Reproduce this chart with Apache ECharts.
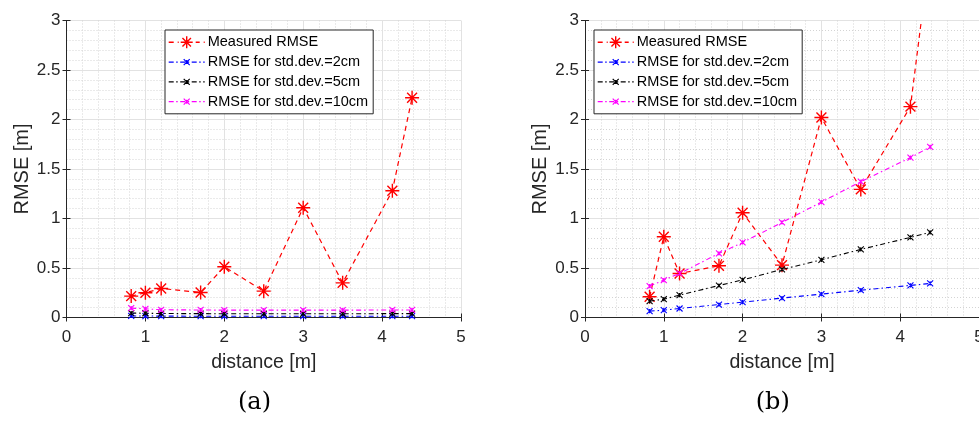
<!DOCTYPE html>
<html>
<head>
<meta charset="utf-8">
<script src="https://cdn.jsdelivr.net/npm/echarts@6/dist/echarts.min.js"></script>
<style>
html,body{margin:0;padding:0;background:#fff;}
#chart{width:979px;height:422px;}
</style>
</head>
<body>
<div id="chart"></div>
<script>
// ---- data ----
const distance = [0.82, 1.0, 1.2, 1.7, 2.0, 2.5, 3.0, 3.5, 4.13, 4.38];
const seriesNames = ['Measured RMSE', 'RMSE for std.dev.=2cm', 'RMSE for std.dev.=5cm', 'RMSE for std.dev.=10cm'];
// plot (a)
const measuredA = [0.216, 0.25, 0.293, 0.253, 0.512, 0.266, 1.109, 0.35, 1.28, 2.22];
const std2A = [0.016, 0.015, 0.014, 0.013, 0.013, 0.013, 0.013, 0.013, 0.013, 0.013];
const std5A = [0.045, 0.043, 0.040, 0.039, 0.038, 0.038, 0.038, 0.038, 0.039, 0.039];
const std10A = [0.095, 0.088, 0.078, 0.076, 0.074, 0.074, 0.074, 0.074, 0.076, 0.076];
// plot (b)
const measuredB = [0.209, 0.816, 0.445, 0.522, 1.058, 0.529, 2.02, 1.294, 2.13, 3.7];
const std2B = [0.064, 0.074, 0.091, 0.131, 0.155, 0.196, 0.236, 0.276, 0.324, 0.344];
const std5B = [0.165, 0.185, 0.226, 0.323, 0.38, 0.485, 0.583, 0.688, 0.809, 0.86];
const std10B = [0.317, 0.378, 0.445, 0.647, 0.758, 0.96, 1.166, 1.372, 1.615, 1.723];
const xTicks = {min: 0, max: 5, interval: 1};
const yTicks = {min: 0, max: 3, interval: 0.5};
const captions = ['(a)', '(b)'];

// ---- chart ----
const txt = '#262626';
const FONT = '"Liberation Sans", Arial, Helvetica, sans-serif';
const SERIF = '"DejaVu Serif", "Liberation Serif", serif';
const starPath = 'path://M0,-10L0,10M-10,0L10,0M-7.07,-7.07L7.07,7.07M-7.07,7.07L7.07,-7.07';
const xPath = 'path://M-10,-10L10,10M-10,10L10,-10M0,-7L0,7';
const colors = ['#ff0000', '#0000ff', '#000000', '#ff00ff'];

const grids = [
  {left: 66.5, top: 20.5, width: 394.5, height: 297, outerBoundsMode: 'none', containLabel: false},
  {left: 585, top: 20.5, width: 394, height: 297, outerBoundsMode: 'none', containLabel: false}
];

function mainX(g) {
  return {
    type: 'value', gridIndex: g, position: 'bottom',
    min: xTicks.min, max: xTicks.max, interval: xTicks.interval,
    name: 'distance [m]', nameLocation: 'middle', nameGap: 35,
    nameTextStyle: {color: txt, fontSize: 19.5, fontFamily: FONT},
    axisLine: {show: true, lineStyle: {color: txt, width: 1}},
    axisTick: {show: true, inside: true, length: 4, lineStyle: {color: txt}},
    axisLabel: {color: txt, fontSize: 17, fontFamily: FONT, margin: 11, hideOverlap: false},
    splitLine: {show: true, lineStyle: {color: '#e2e2e2', width: 1}},
    minorTick: {show: false, splitNumber: 5},
    minorSplitLine: {show: true, lineStyle: {color: '#d4d4d4', width: 1, type: [1, 2]}}
  };
}
function topX(g) {
  return {
    type: 'value', gridIndex: g, position: 'top',
    min: xTicks.min, max: xTicks.max, interval: xTicks.interval,
    axisLine: {show: true, lineStyle: {color: txt, width: 1}},
    axisTick: {show: true, inside: true, length: 4, lineStyle: {color: txt}},
    axisLabel: {show: false}, splitLine: {show: false}
  };
}
function mainY(g) {
  return {
    type: 'value', gridIndex: g, position: 'left',
    min: yTicks.min, max: yTicks.max, interval: yTicks.interval,
    name: 'RMSE [m]', nameLocation: 'middle', nameGap: 34.5, nameRotate: 90,
    nameTextStyle: {color: txt, fontSize: 20, fontFamily: FONT},
    axisLine: {show: true, lineStyle: {color: txt, width: 1}},
    axisTick: {show: true, inside: true, length: 4, lineStyle: {color: txt}},
    axisLabel: {color: txt, fontSize: 17, fontFamily: FONT, margin: 6, hideOverlap: false},
    splitLine: {show: true, lineStyle: {color: '#e2e2e2', width: 1}},
    minorTick: {show: false, splitNumber: 5},
    minorSplitLine: {show: true, lineStyle: {color: '#d4d4d4', width: 1, type: [1, 2]}}
  };
}
function rightY(g) {
  return {
    type: 'value', gridIndex: g, position: 'right',
    min: yTicks.min, max: yTicks.max, interval: yTicks.interval,
    axisLine: {show: true, lineStyle: {color: txt, width: 1}},
    axisTick: {show: true, inside: true, length: 4, lineStyle: {color: txt}},
    axisLabel: {show: false}, splitLine: {show: false}
  };
}

const xAxes = [mainX(0), mainX(1), topX(0), topX(1)];
const yAxes = [mainY(0), mainY(1), rightY(0), rightY(1)];

function pairs(ys) { return distance.map((x, i) => [x, ys[i]]); }

function mkSeries(g, idx, ys) {
  const isMeas = idx === 0;
  return {
    type: 'line', name: seriesNames[idx], xAxisIndex: g, yAxisIndex: g,
    data: pairs(ys), clip: true, animation: false,
    symbol: isMeas ? starPath : xPath,
    symbolSize: isMeas ? 14 : 6,
    showAllSymbol: true,
    lineStyle: {color: colors[idx], width: isMeas ? 1.2 : 1.1, type: isMeas ? [5, 4] : [5, 3, 1.5, 3]},
    itemStyle: {color: colors[idx], borderColor: colors[idx], borderWidth: isMeas ? 1.4 : 1.1},
    emphasis: {disabled: true},
    z: 3 + idx
  };
}

const series = [];
[[measuredA, std2A, std5A, std10A], [measuredB, std2B, std5B, std10B]].forEach((set, g) => {
  set.forEach((ys, idx) => series.push(mkSeries(g, idx, ys)));
});

// legend icons (line sample + marker), drawn in a 36 x 14 box
const IW = 36, IH = 14;
function dashSegments(pattern, x0, x1, y) {
  let s = '', x = x0, k = 0;
  while (x < x1) {
    const len = pattern[k % pattern.length];
    if (k % 2 === 0) { const e = Math.min(x + len, x1); s += 'M' + x.toFixed(2) + ',' + y + 'L' + e.toFixed(2) + ',' + y; }
    x += len; k++;
  }
  return s;
}
function legendIcon(idx) {
  const cy = IH / 2, cx = IW / 2;
  let p = 'M0,0L0,0M' + IW + ',' + IH + 'L' + IW + ',' + IH; // bounding box anchors
  if (idx === 0) {
    p += dashSegments([5, 4], 0, cx - 8, cy) + dashSegments([4, 4], cx + 9, IW, cy);
    const r = 6;
    p += 'M' + cx + ',' + (cy - r) + 'L' + cx + ',' + (cy + r) + 'M' + (cx - r) + ',' + cy + 'L' + (cx + r) + ',' + cy;
    const d = r * 0.707;
    p += 'M' + (cx - d) + ',' + (cy - d) + 'L' + (cx + d) + ',' + (cy + d) + 'M' + (cx - d) + ',' + (cy + d) + 'L' + (cx + d) + ',' + (cy - d);
  } else {
    p += dashSegments([5, 2.5, 1.5, 2.5], 0, IW, cy);
    const r = 3;
    p += 'M' + (cx - r) + ',' + (cy - r) + 'L' + (cx + r) + ',' + (cy + r) + 'M' + (cx - r) + ',' + (cy + r) + 'L' + (cx + r) + ',' + (cy - r) + 'M' + cx + ',' + (cy - 2) + 'L' + cx + ',' + (cy + 2);
  }
  return 'path://' + p;
}

function mkLegend(left) {
  return {
    data: seriesNames.map((n, i) => ({
      name: n, icon: legendIcon(i),
      itemStyle: {color: colors[i], borderColor: colors[i], borderWidth: i === 0 ? 1.4 : 1.2}
    })),
    orient: 'vertical', left: left, top: 30,
    backgroundColor: '#ffffff', borderColor: txt, borderWidth: 1,
    padding: [4.5, 5, 4.5, 3], itemWidth: IW, itemHeight: IH, itemGap: 4.6,
    textStyle: {color: '#000', fontSize: 14.5, fontFamily: FONT, padding: [0, 0, 0, -2]},
    selectedMode: false
  };
}

const chart = echarts.init(document.getElementById('chart'), null, {renderer: 'canvas'});
chart.setOption({
  backgroundColor: '#ffffff',
  animation: false,
  grid: grids,
  xAxis: xAxes,
  yAxis: yAxes,
  legend: [mkLegend(165), mkLegend(594)],
  series: series,
  graphic: [
    {type: 'text', x: 254.5, y: 403, style: {text: captions[0], fontSize: 24, fontFamily: SERIF, fill: '#000', align: 'center', verticalAlign: 'middle'}},
    {type: 'text', x: 772.7, y: 403, style: {text: captions[1], fontSize: 24, fontFamily: SERIF, fill: '#000', align: 'center', verticalAlign: 'middle'}}
  ]
});
</script>
</body>
</html>
